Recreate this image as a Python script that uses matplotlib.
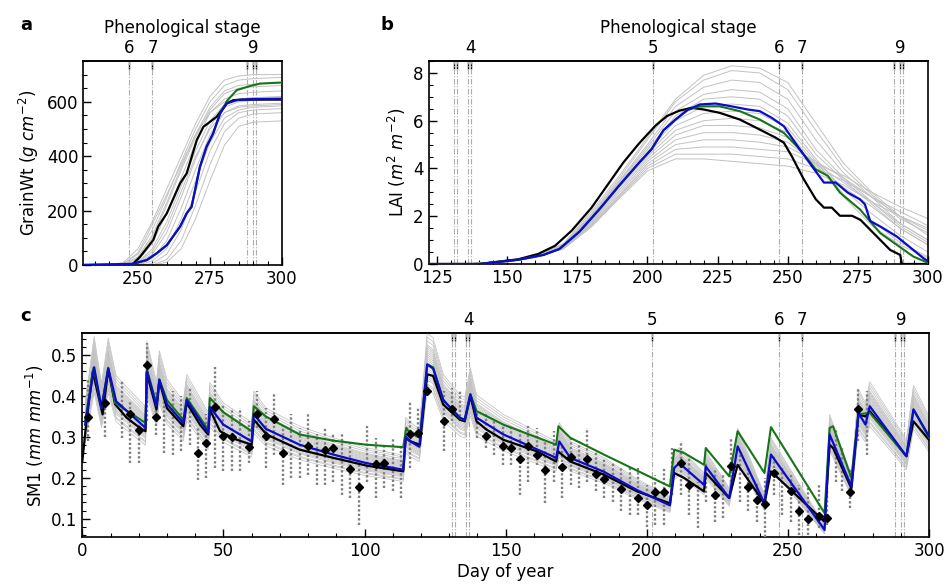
import numpy as np
import matplotlib
matplotlib.use('Agg')
import matplotlib.pyplot as plt
from matplotlib.ticker import MultipleLocator

# ---------------- phenology ----------------
stage_days = [131, 132, 136, 137, 202, 247, 255, 288, 290, 291]
stage_labels = ['', '', '', '4', '5', '6', '7', '', '9', '']

# ---------------- panel a : GrainWt ----------------
a_black_day = [231, 247.8, 250.7, 255.3, 257, 260, 264.6, 266.9, 270.4, 272.7, 277.3, 280.8, 283.1, 286, 300]
a_black_val = [0, 0, 30, 92, 141, 190, 300, 337, 459, 508, 545, 594, 606, 608, 608]
a_blue_day = [231, 248, 253, 256.5, 260, 264.6, 266.9, 268.6, 271.5, 273.8, 276.1, 278.5, 280.8, 284.3, 289.9, 300]
a_blue_val = [0, 4, 18, 43, 73, 141, 190, 214, 361, 435, 484, 557, 594, 606, 610, 611]
a_green_day = [231, 248, 253, 256.5, 260, 264.6, 266.9, 268.6, 271.5, 273.8, 276.1, 278.5, 281, 284.3, 288.9, 292.4, 300]
a_green_val = [0, 4, 18, 43, 73, 141, 190, 214, 361, 435, 484, 557, 605, 643, 658, 667, 671]
a_grey_day = [231, 240, 245, 250, 255, 260, 265, 270, 275, 280, 285, 290, 300]
a_grey_vals = [
    [0, 0, 10, 60, 160, 280, 400, 520, 620, 680, 695, 700, 700],
    [0, 0, 5, 40, 130, 250, 380, 500, 600, 660, 680, 685, 690],
    [0, 0, 0, 25, 100, 220, 350, 470, 570, 630, 650, 655, 660],
    [0, 0, 0, 15, 80, 190, 320, 450, 560, 610, 630, 635, 640],
    [0, 0, 0, 10, 60, 160, 290, 420, 530, 590, 610, 615, 620],
    [0, 0, 0, 5, 40, 120, 250, 390, 510, 580, 600, 605, 610],
    [0, 0, 0, 0, 25, 90, 210, 350, 480, 560, 585, 590, 595],
    [0, 0, 0, 0, 15, 60, 170, 310, 450, 540, 570, 580, 585],
    [0, 0, 0, 0, 5, 40, 130, 270, 420, 520, 560, 570, 575],
    [0, 0, 0, 0, 0, 20, 90, 220, 370, 490, 540, 555, 560],
    [0, 0, 0, 0, 0, 10, 60, 170, 310, 440, 510, 525, 530],
    [0, 0, 5, 45, 150, 260, 370, 480, 560, 600, 610, 615, 615],
    [0, 0, 2, 30, 110, 230, 360, 480, 580, 640, 660, 665, 670],
    [0, 0, 0, 8, 50, 140, 270, 400, 500, 560, 580, 585, 590],
]

# ---------------- panel b : LAI ----------------
b_black_day = [122, 140, 154, 161, 167, 173, 180, 185.7, 191.4, 197, 202.9, 207, 211.4, 215.7, 220, 225.7,
               232.9, 240, 245.7, 248.6, 251.4, 255.7, 260, 262.9, 265.7, 268.6, 272.9, 275.9, 280.6,
               286.5, 290.1, 290.7, 300]
b_black_val = [0, 0, 0.2, 0.42, 0.76, 1.4, 2.35, 3.3, 4.25, 5.05, 5.8, 6.2, 6.42, 6.54, 6.47, 6.33,
               6.05, 5.63, 5.29, 5.08, 4.52, 3.55, 2.71, 2.36, 2.36, 2.02, 2.02, 1.85, 1.29,
               0.59, 0.38, 0.0, 0.0]
b_blue_day = [122, 140, 154, 162.9, 168.6, 175.7, 182.9, 190, 197, 201.4, 205.7, 210, 214.3, 218.6, 224.3,
              230, 235.7, 240, 244.3, 248.6, 254.3, 258.6, 262.9, 267.1, 271.4, 275.7, 277.5, 279.4,
              283, 288.9, 298.4, 300]
b_blue_val = [0, 0, 0.18, 0.38, 0.63, 1.35, 2.3, 3.3, 4.24, 4.8, 5.6, 6.05, 6.45, 6.68, 6.72,
              6.6, 6.47, 6.4, 6.12, 5.77, 4.8, 4.1, 3.41, 3.41, 2.99, 2.71, 2.5, 1.8,
              1.57, 1.15, 0.24, 0.12]
b_green_day = [122, 140, 154, 162.9, 168.6, 175.7, 182.9, 190, 197, 201.4, 205.7, 210, 214.3, 218.6, 225.7,
               232.9, 240, 248.6, 254.3, 260, 264.3, 268.6, 275.7, 283, 294.8, 300]
b_green_val = [0, 0, 0.18, 0.38, 0.63, 1.35, 2.3, 3.3, 4.24, 4.8, 5.6, 6.05, 6.45, 6.6, 6.6,
               6.4, 6.05, 5.49, 4.8, 3.96, 3.69, 2.99, 2.29, 1.29, 0.31, 0.05]
b_grey_day = [122, 135, 150, 160, 170, 180, 190, 200, 210, 220, 230, 240, 250, 260, 270, 280, 290, 300]
b_grey_vals = [
    [0, 0, 0.12, 0.36, 0.85, 2.2, 3.7, 5.3, 6.9, 7.9, 8.3, 8.2, 7.6, 5.9, 4.2, 3.0, 2.0, 1.2],
    [0, 0, 0.12, 0.35, 0.82, 2.1, 3.6, 5.2, 6.8, 7.7, 8.1, 8.0, 7.3, 5.6, 4.0, 2.9, 1.9, 1.3],
    [0, 0, 0.11, 0.34, 0.80, 2.05, 3.5, 5.0, 6.6, 7.4, 7.7, 7.6, 6.9, 5.2, 3.8, 2.8, 1.7, 1.0],
    [0, 0, 0.11, 0.33, 0.78, 2.0, 3.45, 4.9, 6.4, 7.1, 7.3, 7.2, 6.5, 4.8, 3.6, 2.6, 1.6, 0.9],
    [0, 0, 0.11, 0.33, 0.76, 1.95, 3.4, 4.8, 6.2, 6.9, 7.0, 6.9, 6.2, 4.6, 3.5, 2.5, 1.5, 0.8],
    [0, 0, 0.10, 0.32, 0.75, 1.9, 3.3, 4.7, 6.0, 6.6, 6.7, 6.6, 5.9, 4.4, 3.1, 2.1, 1.2, 0.5],
    [0, 0, 0.10, 0.31, 0.73, 1.85, 3.25, 4.6, 5.8, 6.3, 6.4, 6.3, 5.7, 4.3, 2.9, 1.8, 0.9, 0.3],
    [0, 0, 0.10, 0.30, 0.72, 1.8, 3.2, 4.5, 5.6, 6.0, 6.1, 6.0, 5.5, 4.2, 2.8, 1.6, 0.8, 0.25],
    [0, 0, 0.10, 0.30, 0.70, 1.75, 3.1, 4.4, 5.4, 5.8, 5.8, 5.7, 5.3, 4.1, 3.2, 2.4, 1.5, 0.8],
    [0, 0, 0.10, 0.29, 0.68, 1.7, 3.0, 4.3, 5.2, 5.5, 5.5, 5.4, 5.1, 4.2, 3.4, 2.6, 1.7, 1.0],
    [0, 0, 0.09, 0.28, 0.66, 1.65, 2.9, 4.2, 5.0, 5.2, 5.2, 5.1, 4.9, 4.3, 3.6, 2.8, 2.0, 1.4],
    [0, 0, 0.09, 0.28, 0.65, 1.6, 2.85, 4.1, 4.8, 4.9, 4.9, 4.8, 4.7, 4.2, 3.7, 3.0, 2.4, 1.9],
    [0, 0, 0.09, 0.27, 0.64, 1.6, 2.8, 4.0, 4.6, 4.6, 4.6, 4.5, 4.4, 4.0, 3.5, 2.8, 2.2, 1.6],
    [0, 0, 0.09, 0.27, 0.63, 1.55, 2.75, 3.9, 4.4, 4.4, 4.3, 4.2, 4.1, 3.8, 3.3, 2.6, 2.0, 1.5],
]

# ---------------- panel c : SM1 ----------------
c_black_day = [0, 1.5, 3.7, 7.2, 9.2, 11.6, 15.7, 20.4, 22.4, 22.8, 26.3, 27.3, 30, 35.8, 37, 41.7, 44.6, 45.2,
               48.8, 54, 60, 60.8, 65.3, 77, 88.9, 100.7, 113.7, 114.6, 116, 119.6, 122.2, 124.3, 127.9,
               133.8, 135.5, 137.5, 139.7, 143.2, 149.2, 161, 167.9, 168.5, 172.9, 184.8, 196.6, 208.2,
               209.7, 213.2, 220.3, 220.9, 229.2, 232.2, 241.7, 244, 263, 264.8, 266, 272.5, 275, 277.5,
               279, 292, 294.5, 300]
c_black_val = [0.24, 0.34, 0.46, 0.355, 0.465, 0.38, 0.347, 0.322, 0.314, 0.457, 0.367, 0.436, 0.37, 0.326,
               0.383, 0.33, 0.306, 0.367, 0.314, 0.295, 0.281, 0.342, 0.306, 0.269, 0.249, 0.23, 0.216,
               0.298, 0.29, 0.281, 0.453, 0.449, 0.379, 0.342, 0.338, 0.40, 0.338, 0.318, 0.293, 0.265,
               0.24, 0.265, 0.24, 0.208, 0.167, 0.138, 0.212, 0.2, 0.167, 0.212, 0.151, 0.232, 0.138,
               0.216, 0.093, 0.281, 0.273, 0.175, 0.355, 0.35, 0.363, 0.253, 0.338, 0.293]
c_blue_day = [1, 4.2, 6.8, 9.2, 12, 22.4, 22.9, 26.3, 27.3, 30, 35.8, 37, 44.6, 45.2, 50, 60, 60.8, 65, 77,
              88.9, 100.7, 113.7, 114.6, 116, 119.4, 122.2, 124.3, 127.9, 133.8, 135.5, 137.5, 139.7,
              149.2, 167.9, 169, 172.9, 184.8, 196.6, 208.2, 209.7, 211.5, 220.3, 220.9, 229.2, 232.2,
              241.7, 244, 263, 264.8, 272.5, 275, 277.5, 279, 292, 294.5, 300]
c_blue_val = [0.33, 0.47, 0.371, 0.467, 0.387, 0.322, 0.46, 0.375, 0.44, 0.38, 0.334, 0.39, 0.31, 0.373,
              0.33, 0.289, 0.355, 0.32, 0.281, 0.257, 0.236, 0.22, 0.30, 0.29, 0.276, 0.477, 0.467, 0.39,
              0.347, 0.342, 0.404, 0.347, 0.306, 0.249, 0.289, 0.249, 0.215, 0.17, 0.133, 0.224, 0.236,
              0.183, 0.228, 0.151, 0.277, 0.138, 0.257, 0.073, 0.306, 0.179, 0.359, 0.33, 0.375, 0.253,
              0.367, 0.302]
c_green_day = [1, 4, 6.8, 9.2, 11.6, 22.4, 22.9, 26.3, 27.3, 30, 35.8, 37, 44.6, 45.2, 50, 60, 60.8, 65, 77,
               88.9, 100.7, 113.7, 114.8, 116, 119.6, 122.2, 124.3, 127.9, 133.8, 135.5, 137.5, 139.7,
               149.2, 167.9, 168.7, 172.9, 184.8, 208.2, 209.7, 213.2, 220.3, 220.9, 229.2, 232.2, 241.7,
               244, 263, 264.8, 266, 272.5, 275, 279, 292, 294.5, 300]
c_green_val = [0.338, 0.469, 0.371, 0.469, 0.383, 0.334, 0.465, 0.38, 0.44, 0.39, 0.342, 0.395, 0.318, 0.395,
               0.36, 0.314, 0.375, 0.35, 0.306, 0.291, 0.281, 0.275, 0.322, 0.31, 0.298, 0.477, 0.47, 0.39,
               0.345, 0.342, 0.404, 0.363, 0.33, 0.281, 0.326, 0.298, 0.257, 0.179, 0.269, 0.261, 0.232,
               0.273, 0.204, 0.314, 0.212, 0.324, 0.114, 0.322, 0.326, 0.2, 0.355, 0.359, 0.253, 0.367, 0.298]
c_grey_scale = [0.87, 0.89, 0.90, 0.92, 0.93, 0.94, 0.95, 0.96, 0.97, 0.98, 0.99, 1.00, 1.01, 1.02, 1.03,
                1.04, 1.05, 1.06, 1.07, 1.08, 1.09, 1.10, 1.12, 1.14, 1.16]

obs_day = [2, 8, 17, 20, 23, 26, 41, 44, 47, 50, 53, 59, 62, 65, 68, 71, 80, 86, 89, 95, 98, 104, 107, 116,
           119, 122, 128, 131, 143, 149, 152, 155, 158, 161, 164, 170, 173, 179, 182, 185, 191, 197, 200,
           203, 206, 212, 215, 224, 230, 236, 239, 242, 245, 251, 254, 257, 261, 264, 272, 275]
obs_val = [0.348, 0.383, 0.355, 0.318, 0.475, 0.348, 0.261, 0.285, 0.373, 0.302, 0.300, 0.275, 0.355, 0.303,
           0.345, 0.261, 0.277, 0.269, 0.273, 0.222, 0.177, 0.234, 0.236, 0.307, 0.310, 0.412, 0.340, 0.369,
           0.303, 0.279, 0.273, 0.245, 0.279, 0.257, 0.220, 0.226, 0.250, 0.245, 0.210, 0.198, 0.173, 0.151,
           0.134, 0.165, 0.165, 0.236, 0.182, 0.159, 0.228, 0.178, 0.145, 0.136, 0.212, 0.169, 0.118, 0.100,
           0.106, 0.102, 0.165, 0.369]

col_day = [2, 8, 14, 17, 20, 23, 26, 29, 32, 35, 38, 41, 44, 47, 50, 53, 56, 59, 62, 65, 68, 71, 74, 77, 80,
           83, 86, 89, 92, 95, 98, 101, 104, 107, 110, 113, 116, 119, 122, 128, 131, 134, 140, 143, 146, 149,
           152, 155, 158, 161, 164, 167, 170, 173, 176, 179, 182, 185, 188, 191, 194, 197, 200, 203, 206,
           209, 212, 215, 218, 221, 224, 227, 230, 233, 236, 239, 242, 245, 248, 251, 254, 257, 261, 264,
           267, 269, 272, 275, 278]
col_low = [0.29, 0.30, 0.298, 0.236, 0.236, 0.338, 0.305, 0.26, 0.257, 0.265, 0.28, 0.196, 0.200, 0.224,
           0.216, 0.216, 0.216, 0.236, 0.322, 0.224, 0.257, 0.183, 0.200, 0.200, 0.208, 0.183, 0.183, 0.191,
           0.159, 0.151, 0.085, 0.191, 0.151, 0.175, 0.167, 0.151, 0.224, 0.298, 0.40, 0.265, 0.338, 0.338,
           0.298, 0.273, 0.257, 0.232, 0.232, 0.159, 0.191, 0.232, 0.138, 0.191, 0.151, 0.183, 0.175, 0.191,
           0.167, 0.151, 0.142, 0.118, 0.110, 0.110, 0.081, 0.085, 0.085, 0.159, 0.159, 0.110, 0.077, 0.142,
           0.093, 0.102, 0.191, 0.142, 0.118, 0.093, 0.055, 0.159, 0.110, 0.093, 0.061, 0.061, 0.077, 0.085,
           0.191, 0.167, 0.126, 0.289, 0.257]
col_high = [0.44, 0.40, 0.436, 0.387, 0.338, 0.530, 0.412, 0.40, 0.412, 0.40, 0.42, 0.322, 0.355, 0.473,
            0.379, 0.371, 0.371, 0.338, 0.412, 0.371, 0.404, 0.330, 0.355, 0.322, 0.355, 0.306, 0.322, 0.306,
            0.306, 0.289, 0.240, 0.326, 0.298, 0.281, 0.298, 0.281, 0.387, 0.371, 0.45, 0.412, 0.420, 0.412,
            0.363, 0.355, 0.338, 0.330, 0.330, 0.322, 0.330, 0.322, 0.289, 0.314, 0.281, 0.298, 0.289, 0.322,
            0.265, 0.249, 0.240, 0.224, 0.224, 0.224, 0.183, 0.208, 0.224, 0.273, 0.289, 0.249, 0.191, 0.240,
            0.224, 0.208, 0.298, 0.265, 0.224, 0.191, 0.200, 0.257, 0.224, 0.208, 0.183, 0.175, 0.183, 0.191,
            0.322, 0.273, 0.224, 0.420, 0.412]

# ---------------- styling ----------------
BLUE = '#0b0bcc'
GREEN = '#167516'
GREY = '#c2c2c2'
FS = 12
plt.rcParams['font.family'] = ['DejaVu Sans']
plt.rcParams['axes.linewidth'] = 1.2

W, H = 949, 588
fig = plt.figure(figsize=(W / 100, H / 100), dpi=100)


def px_axes(l, t, r, b):
    return fig.add_axes([l / W, 1 - b / H, (r - l) / W, (b - t) / H])


def style(ax, xmaj, xmin, ymaj, ymin):
    ax.xaxis.set_major_locator(MultipleLocator(xmaj))
    ax.xaxis.set_minor_locator(MultipleLocator(xmin))
    ax.yaxis.set_major_locator(MultipleLocator(ymaj))
    ax.yaxis.set_minor_locator(MultipleLocator(ymin))
    ax.tick_params(which='both', direction='in', top=False, right=False, labelsize=FS)
    ax.tick_params(which='major', length=6, width=1)
    ax.tick_params(which='minor', length=3, width=0.8)


def stages(ax, title=None):
    lo, hi = ax.get_xlim()
    for d in stage_days:
        if lo <= d <= hi:
            ax.axvline(d, color='0.68', lw=0.8, ls=(0, (5, 1.5, 1, 1.5)), zorder=1)
    sec = ax.secondary_xaxis('top')
    vis = [(d, l) for d, l in zip(stage_days, stage_labels) if lo <= d <= hi]
    sec.set_xticks([v[0] for v in vis], labels=[v[1] for v in vis])
    sec.tick_params(direction='in', length=6, width=1, labelsize=FS, pad=3)
    if title:
        sec.set_xlabel(title, fontsize=FS, labelpad=4)


# ----- panel a -----
axa = px_axes(83.3, 61, 282, 265)
axa.set_xlim(231, 300)
axa.set_ylim(0, 750)
for g in a_grey_vals:
    axa.plot(a_grey_day, g, color=GREY, lw=0.7, zorder=2)
axa.plot(a_black_day, a_black_val, color='black', lw=1.6, zorder=4)
axa.plot(a_green_day, a_green_val, color=GREEN, lw=1.5, zorder=4)
axa.plot(a_blue_day, a_blue_val, color=BLUE, lw=1.6, zorder=5)
style(axa, 25, 5, 200, 50)
axa.set_ylabel('GrainWt ($g\\ cm^{-2}$)', fontsize=FS)
stages(axa, 'Phenological stage')

# ----- panel b -----
axb = px_axes(428.7, 61, 928, 264)
axb.set_xlim(122, 300)
axb.set_ylim(0, 8.5)
for g in b_grey_vals:
    axb.plot(b_grey_day, g, color=GREY, lw=0.7, zorder=2)
axb.plot(b_black_day, b_black_val, color='black', lw=1.6, zorder=4)
axb.plot(b_green_day, b_green_val, color=GREEN, lw=1.5, zorder=4)
axb.plot(b_blue_day, b_blue_val, color=BLUE, lw=1.6, zorder=5)
style(axb, 25, 5, 2, 0.5)
axb.set_ylabel('LAI ($m^2\\ m^{-2}$)', fontsize=FS)
stages(axb, 'Phenological stage')

# ----- panel c -----
axc = px_axes(82.3, 333.3, 929, 537.3)
axc.set_xlim(0, 300)
axc.set_ylim(0.055, 0.553)
blue_arr = np.array(c_blue_val)
for s in c_grey_scale:
    axc.plot(c_blue_day, blue_arr * s, color=GREY, lw=0.55, zorder=2)
axc.vlines(col_day, col_low, col_high, colors='0.5', linestyles=(0, (1, 0.9)), lw=1.7, zorder=3)
axc.plot(c_black_day, c_black_val, color='black', lw=1.6, zorder=4)
axc.plot(c_green_day, c_green_val, color=GREEN, lw=1.5, zorder=4)
axc.plot(c_blue_day, c_blue_val, color=BLUE, lw=1.6, zorder=5)
axc.plot(obs_day, obs_val, ls='none', marker='D', ms=4.5, color='black', zorder=6)
style(axc, 50, 10, 0.1, 0.02)
axc.set_ylabel('SM1 ($mm\\ mm^{-1}$)', fontsize=FS)
axc.set_xlabel('Day of year', fontsize=FS, labelpad=2)
stages(axc)

# panel letters
fig.text(20 / W, 1 - 25 / H, 'a', fontsize=13, weight='bold', va='center')
fig.text(381 / W, 1 - 25 / H, 'b', fontsize=13, weight='bold', va='center')
fig.text(20 / W, 1 - 316 / H, 'c', fontsize=13, weight='bold', va='center')

fig.savefig('out.png', dpi=100)
